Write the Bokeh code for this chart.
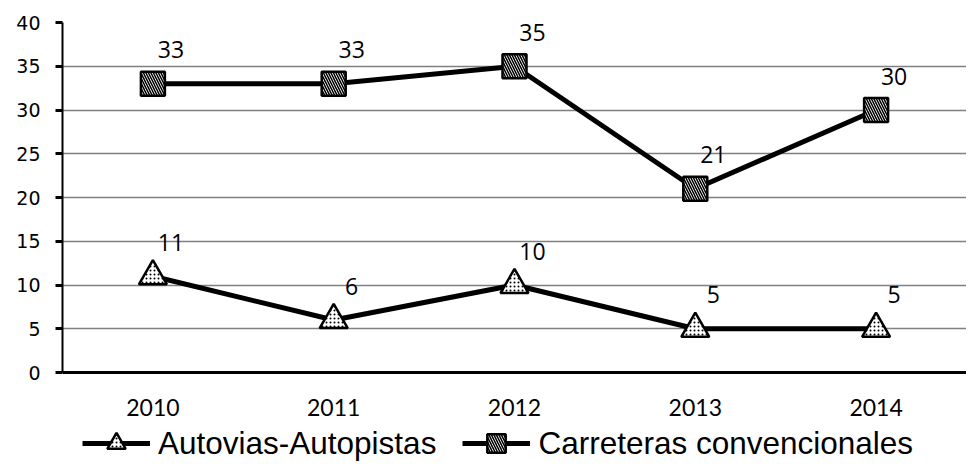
from bokeh.plotting import figure
from bokeh.models import ColumnDataSource, Legend, LegendItem, FixedTicker, Range1d, Span
from bokeh.core.properties import value
from bokeh.embed import file_html
from bokeh.resources import INLINE

years = ["2010", "2011", "2012", "2013", "2014"]
autovias = [11, 6, 10, 5, 5]
carreteras = [33, 33, 35, 21, 30]
y_ticks = [0, 5, 10, 15, 20, 25, 30, 35, 40]
y_top = 40
y_base = 0

src = ColumnDataSource(dict(x=years, a=autovias, c=carreteras,
                            at=[str(v) for v in autovias], ct=[str(v) for v in carreteras],
                            base=[y_base] * len(years)))

# frame extends below the x axis so that the year labels and the legend sit inside it
W, H = 966, 466
LEFT, TOP = 62, 22
px_per_unit = 350 / (y_top - y_base)
frame_h = H - TOP
y_min = y_top - frame_h / px_per_unit

p = figure(x_range=years, y_range=Range1d(y_min, y_top), width=W, height=H,
           output_backend="svg", toolbar_location=None,
           min_border_left=LEFT, min_border_top=TOP, min_border_right=0, min_border_bottom=0)
p.outline_line_color = None
p.background_fill_color = "white"
p.below = []

# grid
p.xgrid.visible = False
p.ygrid.grid_line_color = "black"
p.ygrid.grid_line_dash = "1 1"
p.ygrid.grid_line_width = 1.5
p.yaxis.ticker = FixedTicker(ticks=y_ticks)
p.ygrid.ticker = FixedTicker(ticks=y_ticks)

# y axis
p.yaxis.bounds = (y_base, y_top)
p.yaxis.axis_line_width = 2
p.yaxis.axis_line_color = "black"
p.yaxis.major_tick_line_width = 3
p.yaxis.major_tick_out = 7
p.yaxis.major_tick_in = 0
p.yaxis.minor_tick_line_color = None
p.yaxis.major_label_text_font = "DejaVu Sans"
p.yaxis.major_label_text_font_size = "19px"
p.yaxis.major_label_text_color = "black"
p.yaxis.major_label_standoff = 15

# x axis line and category labels
p.add_layout(Span(location=y_base, dimension="width", line_color="black", line_width=3))
p.text("x", "base", text="x", source=src, y_offset=35,
       text_font=value("Lato"), text_font_size="23px", text_align="center",
       text_baseline="middle", text_color="black")

# series
la = p.line("x", "a", source=src, line_color="black", line_width=5)
ma = p.scatter("x", "a", source=src, marker="triangle", size=28, fill_color="white",
               line_color="black", line_width=2.5, hatch_pattern=".", hatch_color="black",
               hatch_scale=4, hatch_weight=1)
lc = p.line("x", "c", source=src, line_color="black", line_width=5)
mc = p.scatter("x", "c", source=src, marker="square", size=24, fill_color="white",
               line_color="black", line_width=2.5, hatch_pattern="\\", hatch_color="black",
               hatch_scale=5, hatch_weight=1.5)

p.text("x", "a", text="at", source=src, x_offset=18, y_offset=-34,
       text_font=value("Open Sans"), text_font_size="23px", text_align="center",
       text_baseline="middle", text_color="black")
p.text("x", "c", text="ct", source=src, x_offset=18, y_offset=-34,
       text_font=value("Open Sans"), text_font_size="23px", text_align="center",
       text_baseline="middle", text_color="black")

legend = Legend(items=[LegendItem(label="Autovias-Autopistas", renderers=[la, ma]),
                       LegendItem(label="Carreteras convencionales", renderers=[lc, mc])],
                orientation="horizontal", location=(20, 0))
legend.label_text_font = "Liberation Sans"
legend.label_text_font_size = "31.5px"
legend.label_text_color = "black"
legend.label_height = 30
legend.glyph_width = 68
legend.glyph_height = 46
legend.label_standoff = 8
legend.spacing = 26
legend.padding = 0
legend.margin = 0
legend.border_line_color = None
legend.background_fill_alpha = 0
p.add_layout(legend, "center")

open("out.html", "w").write(file_html(p, INLINE))
